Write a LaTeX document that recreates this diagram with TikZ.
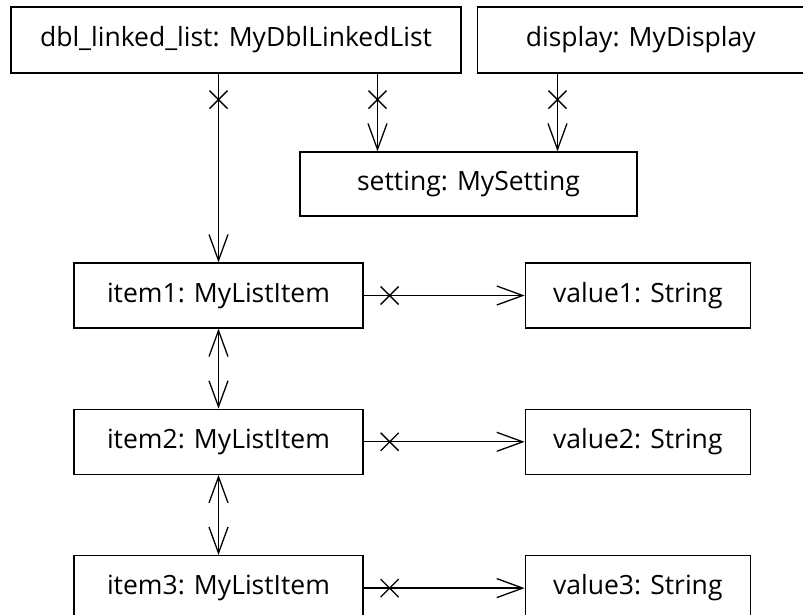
\documentclass[tikz,border=0pt]{standalone}
\usepackage{fontspec}
\setmainfont{Open Sans}
\usetikzlibrary{positioning}
\usetikzlibrary{arrows.meta}
\usetikzlibrary{decorations.markings}

\begin{document}
\begin{tikzpicture}[
  x=1pt, y=-1pt,
  node distance=80pt and 161pt,
  line width=1.3pt,
  font=\fontsize{26.5}{30}\selectfont,
  objbox/.style={draw,rectangle,minimum height=65pt,inner sep=0pt,align=center},
  itembox/.style={objbox,minimum width=289pt},
  valbox/.style={objbox,minimum width=225pt},
  link/.style={-{Straight Barb[length=26pt,width=19pt]}},
  twoway/.style={{Straight Barb[length=26pt,width=19pt]}-{Straight Barb[length=26pt,width=19pt]}},
  navless/.style={postaction={decorate,decoration={markings,
      mark=at position 26pt with {\draw[-] (-9pt,-9pt) -- (9pt,9pt) (-9pt,9pt) -- (9pt,-9pt);}}}}
]
  \useasboundingbox (0,0) rectangle (803,614);

  \node[objbox, minimum width=450pt, minimum height=66pt] at (236,40) (list) {dbl\_linked\_list: MyDblLinkedList};
  \node[objbox, minimum width=327pt, minimum height=66pt, right=15pt of list] (disp) {display: MyDisplay};
  \node[objbox, minimum width=337pt, minimum height=64pt] at (468.5,184) (sett) {setting: MySetting};
  \node[itembox] at (218.5,295.5) (item1) {item1: MyListItem};
  \node[itembox, below=of item1] (item2) {item2: MyListItem};
  \node[itembox, below=of item2] (item3) {item3: MyListItem};
  \node[valbox, right=of item1] (val1) {value1: String};
  \node[valbox, right=of item2] (val2) {value2: String};
  \node[valbox, right=of item3] (val3) {value3: String};

  \draw[link,navless] (list.south -| item1) -- (item1.north);
  \draw[link,navless] ([xshift=-91pt]sett.north |- list.south) -- ([xshift=-91pt]sett.north);
  \draw[link,navless] ([xshift=89pt]sett.north |- disp.south) -- ([xshift=89pt]sett.north);
  \draw[twoway] (item1) -- (item2);
  \draw[twoway] (item2) -- (item3);
  \draw[link,navless] (item1) -- (val1);
  \draw[link,navless] (item2) -- (val2);
  \draw[link,navless] (item3) -- (val3);
\end{tikzpicture}
\end{document}
